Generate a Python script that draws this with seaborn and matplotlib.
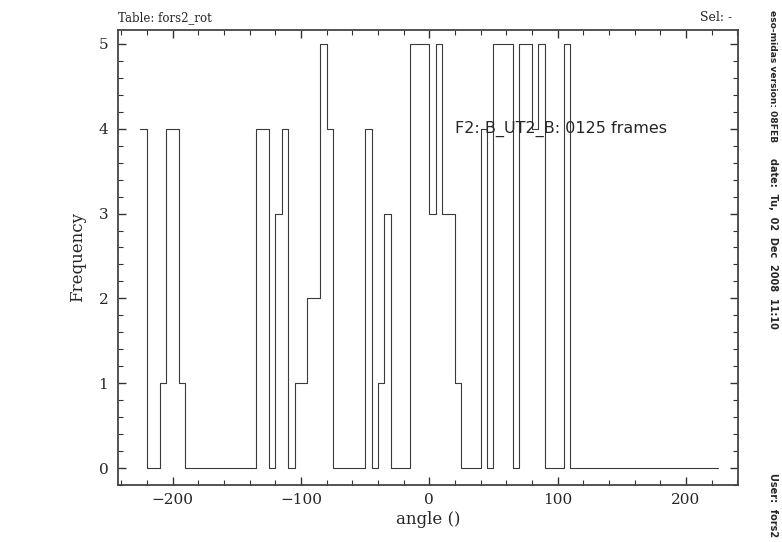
import numpy as np
import pandas as pd
import matplotlib
matplotlib.use('Agg')
import matplotlib.pyplot as plt
import seaborn as sns
from matplotlib.ticker import MultipleLocator

sns.set_style('ticks')
plt.rcParams['font.family'] = 'DejaVu Serif'

# ---------- data: 5 deg bins, only non-empty bins listed ----------
bin_start = [-225, -210, -205, -200, -195, -135, -130, -120, -115,
             -105, -100, -95, -90, -85, -80, -50, -40, -35,
             -15, -10, -5, 0, 5, 10, 15, 20,
             40, 50, 55, 60, 70, 75, 80, 85, 105]
counts = [4, 1, 4, 4, 1, 4, 4, 3, 4,
          1, 1, 2, 2, 5, 4, 4, 1, 3,
          5, 5, 5, 3, 5, 3, 3, 1,
          4, 5, 5, 5, 5, 5, 4, 5, 5]
bin_width = 5
bin_lo, bin_hi = -225, 225

df = pd.DataFrame({'angle': np.array(bin_start) + bin_width / 2, 'count': counts})

fig = plt.figure(figsize=(7.82, 5.42), dpi=100)
ax = fig.add_axes([118 / 782, 1 - 485 / 542, 620 / 782, (485 - 29.5) / 542])

sns.histplot(data=df, x='angle', weights='count', binwidth=bin_width,
             binrange=(bin_lo, bin_hi), element='step',
             fill=False, color='#3a3a3a', linewidth=0.8, ax=ax)

ax.set_xlim(-242.5, 240.5)
ax.set_ylim(-0.2, 5.17)
ax.xaxis.set_major_locator(MultipleLocator(100))
ax.xaxis.set_minor_locator(MultipleLocator(20))
ax.yaxis.set_major_locator(MultipleLocator(1))
ax.yaxis.set_minor_locator(MultipleLocator(0.2))
ax.tick_params(which='both', direction='in', top=True, right=True,
               color='#333333', labelsize=11)
ax.tick_params(axis='x', which='major', pad=6)
ax.tick_params(axis='y', which='major', pad=7)
ax.tick_params(which='major', length=5.5, width=1)
ax.tick_params(which='minor', length=3.6, width=0.8)
for sp in ax.spines.values():
    sp.set_color('#444444')
    sp.set_linewidth(1.3)

ax.set_xlabel('angle ()', fontsize=12, labelpad=3)
ax.set_ylabel('Frequency', fontsize=12, labelpad=9)

ax.text(0.0, 1.012, 'Table: fors2_rot', transform=ax.transAxes,
        ha='left', va='bottom', fontsize=8.5)
ax.text(0.99, 1.012, 'Sel: -', transform=ax.transAxes,
        ha='right', va='bottom', fontsize=9)
ax.text(20, 4, 'F2: B_UT2_B: 0125 frames', ha='left', va='center',
        fontsize=11.5, family='DejaVu Sans')

# side labels, reading top to bottom
side = dict(rotation=-90, fontweight='bold', family='DejaVu Sans',
            ha='center', va='top')
fig.text(773 / 782, 1 - 10 / 542, 'eso-midas version: 08FEB', fontsize=6.6, **side)
fig.text(773 / 782, 1 - 158 / 542, 'date:  Tu,  02  Dec  2008  11:10', fontsize=7, **side)
fig.text(773 / 782, 1 - 473 / 542, 'User:  fors2', fontsize=7, **side)

fig.savefig('out.png', dpi=100)
